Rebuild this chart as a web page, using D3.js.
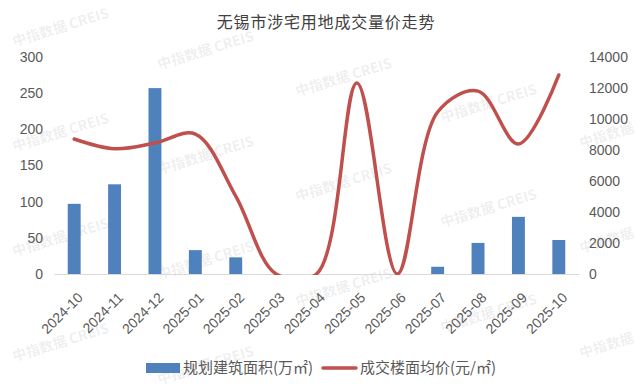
<!DOCTYPE html>
<html lang="zh">
<head>
<meta charset="utf-8" />
<title>无锡市涉宅用地成交量价走势</title>
<script src="https://d3js.org/d3.v7.min.js" charset="utf-8"></script>
<style>
  body { margin: 0; background: #fff; }
  svg { display: block; }
  .axis text { font-family: "Liberation Sans", Arial, sans-serif; font-size: 14px; fill: #595959; }
  .cjk { font-family: "Noto Sans CJK SC", sans-serif; }
</style>
</head>
<body>
<div id="chart"></div>
<script>
  // data
  const months = ["2024-10", "2024-11", "2024-12", "2025-01", "2025-02", "2025-03", "2025-04",
                  "2025-05", "2025-06", "2025-07", "2025-08", "2025-09", "2025-10"];
  const area = [97, 124, 257, 33, 23, 0, 0, 0, 0, 10, 43, 79, 47];           // 万㎡
  const price = [8710, 8080, 8450, 9030, 5030, 0, 0, 12320, 0, 10450, 11800, 8390, 12840]; // 元/㎡
  const leftTicks = [0, 50, 100, 150, 200, 250, 300];
  const rightTicks = [0, 2000, 4000, 6000, 8000, 10000, 12000, 14000];
  const seriesNames = ["规划建筑面积(万㎡)", "成交楼面均价(元/㎡)"];

  const W = 641, H = 387;
  const plot = { left: 54, right: 579, top: 57, bottom: 274 };

  const svg = d3.select("#chart").append("svg")
    .attr("width", W).attr("height", H);

  // watermark lattice
  const wm = svg.append("g").attr("class", "cjk")
    .attr("fill", "#000").attr("fill-opacity", 0.08)
    .style("font-size", "14px").style("font-weight", "bold");
  const colX = [62, 207, 345, 490, 608];
  const colY = [32, 55, 82, 108, 140];
  colX.forEach((cx, i) => {
    const last = i === colX.length - 1;
    for (let k = 0; k < 4; k++) {
      const cy = colY[i] + k * 105;
      if (cy > H - 12) continue;
      wm.append("text")
        .attr("text-anchor", "middle")
        .attr("transform", `translate(${cx},${cy}) rotate(-17)`)
        .text(last ? "中指数据" : "中指数据 CREIS");
    }
  });

  // title
  svg.append("text").attr("class", "cjk")
    .attr("x", 326).attr("y", 28)
    .attr("text-anchor", "middle")
    .style("font-size", "16px").style("letter-spacing", "0.8px")
    .attr("fill", "#404040")
    .text("无锡市涉宅用地成交量价走势");

  const x = d3.scaleBand().domain(months).range([plot.left, plot.right]);
  const yL = d3.scaleLinear().domain([0, 300]).range([plot.bottom, plot.top]);
  const yR = d3.scaleLinear().domain([0, 14000]).range([plot.bottom, plot.top]);

  // axes
  const gL = svg.append("g").attr("class", "axis")
    .attr("transform", `translate(${plot.left},0)`)
    .call(d3.axisLeft(yL).tickValues(leftTicks).tickSize(0).tickPadding(11));
  gL.select(".domain").remove();

  const gR = svg.append("g").attr("class", "axis")
    .attr("transform", `translate(${plot.right},0)`)
    .call(d3.axisRight(yR).tickValues(rightTicks).tickFormat(d3.format("d"))
      .tickSize(0).tickPadding(10));
  gR.select(".domain").remove();

  const gX = svg.append("g").attr("class", "axis")
    .attr("transform", `translate(0,${plot.bottom})`)
    .call(d3.axisBottom(x).tickSize(0).tickSizeOuter(0));
  gX.select(".domain").attr("stroke", "#d9d9d9").attr("stroke-width", 1);
  gX.selectAll("text")
    .attr("y", 0).attr("dy", "0.35em")
    .attr("text-anchor", "end")
    .attr("transform", "translate(6,21) rotate(-45)");

  // bars
  const barW = x.bandwidth() * 0.32;
  svg.append("g").selectAll("rect")
    .data(months.map((m, i) => ({ m, v: area[i] })).filter(d => d.v > 0))
    .join("rect")
    .attr("x", d => x(d.m) + (x.bandwidth() - barW) / 2)
    .attr("y", d => yL(d.v))
    .attr("width", barW)
    .attr("height", d => yL(0) - yL(d.v))
    .attr("fill", "#4F81BD");

  // price line, smoothed and clipped to plot area
  svg.append("clipPath").attr("id", "clip")
    .append("rect")
    .attr("x", 0).attr("y", 0)
    .attr("width", W).attr("height", plot.bottom + 1);

  const line = d3.line()
    .x((d, i) => x(months[i]) + x.bandwidth() / 2)
    .y(d => yR(d))
    .curve(d3.curveCatmullRom.alpha(0.5));

  svg.append("path")
    .datum(price)
    .attr("clip-path", "url(#clip)")
    .attr("d", line)
    .attr("fill", "none")
    .attr("stroke", "#C0504D")
    .attr("stroke-width", 3.5)
    .attr("stroke-linecap", "round");

  // legend
  const lg = svg.append("g").attr("class", "cjk")
    .style("font-size", "15px").attr("fill", "#595959");
  lg.append("rect").attr("x", 146).attr("y", 363).attr("width", 34).attr("height", 10)
    .attr("fill", "#4F81BD");
  lg.append("text").attr("x", 183).attr("y", 373).text(seriesNames[0]);
  lg.append("line").attr("x1", 323).attr("x2", 356).attr("y1", 368).attr("y2", 368)
    .attr("stroke", "#C0504D").attr("stroke-width", 3.5).attr("stroke-linecap", "round");
  lg.append("text").attr("x", 360).attr("y", 373).text(seriesNames[1]);
</script>
</body>
</html>
